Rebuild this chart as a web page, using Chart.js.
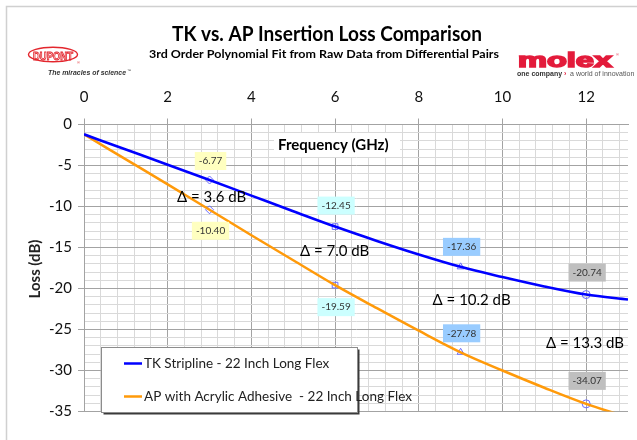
<!DOCTYPE html>
<html>
<head>
<meta charset="utf-8">
<script src="https://cdn.jsdelivr.net/npm/chart.js@4.4.1/dist/chart.umd.min.js"></script>
<style>
  html, body { margin: 0; padding: 0; background: #fff; }
  #wrap { width: 637px; height: 440px; }
</style>
</head>
<body>
<div id="wrap"><canvas id="lossChart" width="637" height="440"></canvas></div>
<script>
// values
var freqGHz  = [0, 1, 2, 3, 4, 5, 6, 7, 8, 9, 10, 11, 12, 13];
var tkLoss   = [-1.2, -3.05, -4.9, -6.77, -8.67, -10.57, -12.45, -14.2, -15.85, -17.36, -18.6, -19.75, -20.74, -21.35];
var apLoss   = [-1.2, -4.25, -7.3, -10.40, -13.5, -16.55, -19.59, -22.4, -25.15, -27.78, -30.0, -32.1, -34.07, -35.7];
var markFreq = [3, 6, 9, 12];
var tkMarked = [-6.77, -12.45, -17.36, -20.74];
var apMarked = [-10.40, -19.59, -27.78, -34.07];
var seriesNames = ["TK Stripline - 22 Inch Long Flex", "AP with Acrylic Adhesive  - 22 Inch Long Flex"];
var deltaLabels = ["\u0394 = 3.6 dB", "\u0394 = 7.0 dB", "\u0394 = 10.2 dB", "\u0394 = 13.3 dB"];
var xTicks = [0, 2, 4, 6, 8, 10, 12];
var yTicks = [0, -5, -10, -15, -20, -25, -30, -35];

// styling / placement (not data)
var FONT = "Lato, 'Open Sans', sans-serif";
var markStyles = ["rectRot", "rect", "triangle", "circle"];
var labelFill = ["#ffffc0", "#ccffff", "#99ccff", "#bfbfbf"];
var tkLabelDy = [-19, -21, -20, -22];
var apLabelDy = [21, 22, -19, -23];
var deltaPos = [[2.22, -8.88], [5.16, -15.39], [8.33, -21.4], [11.04, -26.68]];

function pts(xs, ys) {
    var out = [];
    for (var i = 0; i < xs.length; i++) out.push({x: xs[i], y: ys[i]});
    return out;
}
function isTick(list, v) {
    for (var i = 0; i < list.length; i++) if (Math.abs(list[i] - v) < 1e-6) return true;
    return false;
}
// draws text squeezed or stretched to a given width
function fitText(c, txt, x, y, w, sy, stroke) {
    var m = c.measureText(txt).width;
    c.save();
    c.translate(x, y);
    c.scale(w / m, sy || 1);
    if (stroke) c.strokeText(txt, 0, 0); else c.fillText(txt, 0, 0);
    c.restore();
}

var chromePlugin = {
    id: "chrome",
    beforeDraw: function(chart) {
        var c = chart.ctx;
        c.save();
        c.fillStyle = "#fff";
        c.fillRect(0, 0, chart.width, chart.height);
        c.strokeStyle = "#d0d0d0";
        c.lineWidth = 1.5;
        c.strokeRect(6.5, 6.5, chart.width + 20, chart.height + 20);

        // titles
        c.fillStyle = "#000";
        c.textAlign = "left";
        c.textBaseline = "alphabetic";
        c.font = "bold 20px " + FONT;
        fitText(c, "TK vs. AP Insertion Loss Comparison", 172, 41, 310);
        c.font = "bold 12px " + FONT;
        fitText(c, "3rd Order Polynomial Fit from Raw Data from Differential Pairs", 149, 58, 350);

        // DuPont logo
        c.strokeStyle = "#e3262d";
        c.lineWidth = 1.4;
        c.beginPath();
        c.ellipse(53, 54.5, 24.5, 7.3, 0, 0, Math.PI * 2);
        c.stroke();
        c.lineWidth = 0.9;
        c.font = "bold 11px 'Liberation Sans', sans-serif";
        fitText(c, "DUPONT", 33, 59.5, 40, 1.05, true);
        c.fillStyle = "#e3262d";
        c.font = "4px sans-serif";
        c.fillText("\u00ae", 77, 64);
        c.fillStyle = "#333";
        c.font = "italic bold 8px 'Liberation Sans', sans-serif";
        fitText(c, "The miracles of science", 48, 75, 78);
        c.font = "4px sans-serif";
        c.fillText("\u2122", 127, 72);

        // molex logo
        c.fillStyle = "#e31b3b";
        c.strokeStyle = "#e31b3b";
        c.lineWidth = 1.6;
        c.font = "bold 20px 'Liberation Sans', sans-serif";
        fitText(c, "molex", 518, 67, 94, 1);
        c.save();
        c.translate(518, 67);
        c.scale(94 / c.measureText("molex").width, 1);
        c.strokeText("molex", 0, 0);
        c.restore();
        c.font = "4px sans-serif";
        c.fillText("\u00ae", 616, 56);
        c.font = "bold 7px 'Liberation Sans', sans-serif";
        c.fillStyle = "#333";
        c.fillText("one company", 517, 76);
        var w1 = c.measureText("one company ").width;
        c.fillStyle = "#e31b3b";
        c.fillText("\u203a", 517 + w1, 76);
        c.fillStyle = "#555";
        c.font = "7px 'Liberation Sans', sans-serif";
        c.fillText("a world of innovation", 517 + w1 + 6, 76);
        c.restore();
    },
    afterDatasetsDraw: function(chart) {
        var c = chart.ctx;
        var xs = chart.scales.x, ys = chart.scales.y;
        c.save();

        // data labels at the marked points
        c.font = "10px " + FONT;
        c.textAlign = "center";
        c.textBaseline = "middle";
        var sets = [[2, tkMarked, tkLabelDy], [3, apMarked, apLabelDy]];
        sets.forEach(function(s) {
            var meta = chart.getDatasetMeta(s[0]);
            meta.data.forEach(function(p, j) {
                var txt = s[1][j].toFixed(2);
                var w = c.measureText(txt).width + 8;
                var cx = p.x + 1, cy = p.y + s[2][j];
                c.fillStyle = labelFill[j];
                c.fillRect(cx - w / 2, cy - 9, w, 18);
                c.fillStyle = "#333";
                c.fillText(txt, cx, cy);
            });
        });

        // delta annotations
        c.font = "15px " + FONT;
        c.textAlign = "left";
        c.fillStyle = "#000";
        deltaLabels.forEach(function(t, i) {
            c.fillText(t, xs.getPixelForValue(deltaPos[i][0]), ys.getPixelForValue(deltaPos[i][1]));
        });

        // axis title inside plot
        c.fillStyle = "#fff";
        c.fillRect(274, 133, 126, 24);
        c.fillStyle = "#000";
        c.font = "bold 15px " + FONT;
        c.fillText("Frequency (GHz)", 278, 145);

        // legend box
        var lx = 101.5, ly = 347.5, lw = 256, lh = 65;
        c.fillStyle = "#3a3a3a";
        c.fillRect(lx + 2, ly + 2, lw, lh);
        c.fillStyle = "#fff";
        c.fillRect(lx, ly, lw, lh);
        c.strokeStyle = "#8c8c8c";
        c.lineWidth = 1;
        c.strokeRect(lx, ly, lw, lh);
        c.font = "13.5px " + FONT;
        [0, 1].forEach(function(i) {
            var ds = chart.data.datasets[i];
            var yy = 363.5 + i * 33;
            c.strokeStyle = ds.borderColor;
            c.lineWidth = 2.5;
            c.beginPath();
            c.moveTo(124, yy);
            c.lineTo(142, yy);
            c.stroke();
            c.fillStyle = "#222";
            c.fillText(seriesNames[i], 144, yy);
        });

        // y axis title
        c.translate(35, 269);
        c.rotate(-Math.PI / 2);
        c.textAlign = "center";
        c.font = "bold 15px " + FONT;
        c.fillText("Loss (dB)", 0, 0);
        c.restore();
    }
};

function gridCol(list) {
    return function(ctx) {
        return ctx.tick && isTick(list, ctx.tick.value) ? "#a3a3a3" : "#d9d9d9";
    };
}
function tickCol(list) {
    return function(ctx) {
        return ctx.tick && isTick(list, ctx.tick.value) ? "#a3a3a3" : "rgba(0,0,0,0)";
    };
}

new Chart(document.getElementById("lossChart"), {
    type: "line",
    data: {
        datasets: [{
            label: seriesNames[0],
            data: pts(freqGHz, tkLoss),
            borderColor: "#0000ff",
            borderWidth: 2.6,
            pointRadius: 0,
            cubicInterpolationMode: "monotone",
            fill: false
        }, {
            label: seriesNames[1],
            data: pts(freqGHz, apLoss),
            borderColor: "#ff9a0a",
            borderWidth: 2.5,
            pointRadius: 0,
            cubicInterpolationMode: "monotone",
            fill: false
        }, {
            data: pts(markFreq, tkMarked),
            showLine: false,
            pointStyle: markStyles,
            pointRadius: 4,
            borderColor: "#6b6bff",
            backgroundColor: "rgba(0,0,0,0)",
            borderWidth: 1
        }, {
            data: pts(markFreq, apMarked),
            showLine: false,
            pointStyle: markStyles,
            pointRadius: 4,
            borderColor: "#6b6bff",
            backgroundColor: "rgba(0,0,0,0)",
            borderWidth: 1
        }]
    },
    options: {
        responsive: false,
        animation: false,
        layout: { padding: { left: 0, top: 0, right: 9, bottom: 28.5 } },
        plugins: {
            legend: { display: false },
            tooltip: { enabled: false }
        },
        scales: {
            x: {
                type: "linear",
                position: "top",
                min: 0,
                max: 13,
                afterFit: function(s) { s.height = 124.5; },
                ticks: {
                    stepSize: 0.4,
                    includeBounds: false,
                    autoSkip: false,
                    maxRotation: 0,
                    padding: 12,
                    color: "#111",
                    font: { family: FONT, size: 15 },
                    callback: function(v) { return isTick(xTicks, v) ? Math.round(v) : ""; }
                },
                grid: { color: gridCol(xTicks), tickColor: tickCol(xTicks), tickLength: 6, lineWidth: 1 },
                border: { color: "#a3a3a3" }
            },
            y: {
                min: -35,
                max: 0,
                afterFit: function(s) { s.width = 84; },
                ticks: {
                    stepSize: 1,
                    autoSkip: false,
                    padding: 6,
                    color: "#111",
                    font: { family: FONT, size: 15 },
                    callback: function(v) { return isTick(yTicks, v) ? Math.round(v) : ""; }
                },
                grid: { color: gridCol(yTicks), tickColor: tickCol(yTicks), tickLength: 6, lineWidth: 1 },
                border: { color: "#a3a3a3" }
            }
        }
    },
    plugins: [chromePlugin]
});
</script>
</body>
</html>
